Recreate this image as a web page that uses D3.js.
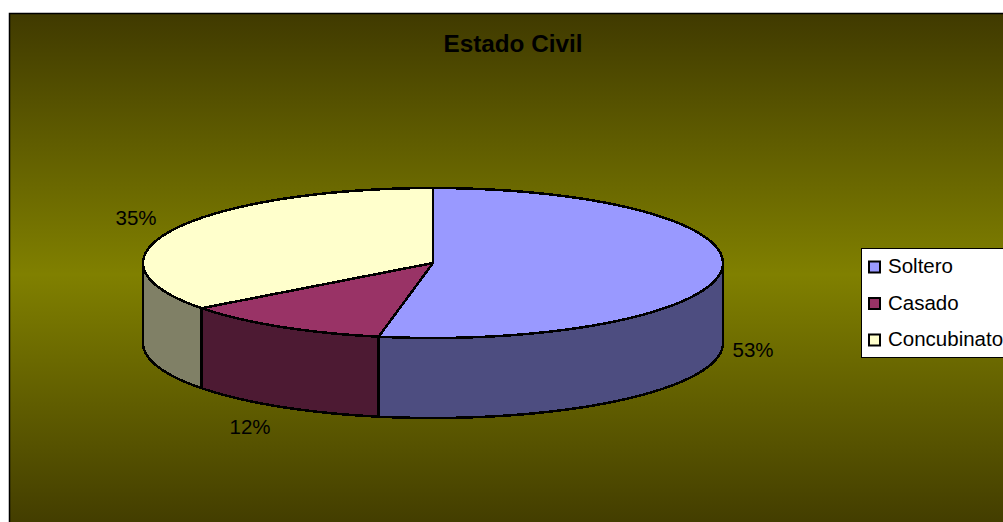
<!DOCTYPE html>
<html>
<head>
<meta charset="utf-8">
<script src="https://cdn.jsdelivr.net/npm/d3@7"></script>
<style>
  html, body { margin: 0; padding: 0; background: #fff; overflow: hidden; }
  text { font-family: "Liberation Sans", Arial, sans-serif; fill: #000; }
</style>
</head>
<body>
<script>
// Chart data
const categories = ['Soltero', 'Casado', 'Concubinato'];
const values = [53, 11.7, 35.3];
const topColors = ['#9999ff', '#993366', '#ffffcc'];
const sideColors = ['#4d4d80', '#4d1a33', '#808066'];

// SVG Canvas
const width = 1003;
const height = 522;

const svg = d3.select('body')
  .append('svg')
    .attr('width', width)
    .attr('height', height)
    .style('display', 'block');

// Background gradient
const grad = svg.append('defs').append('linearGradient')
    .attr('id', 'bg')
    .attr('x1', 0).attr('y1', 0)
    .attr('x2', 0).attr('y2', 1);
grad.selectAll('stop')
    .data([[0, '#403a00'], [0.5, '#808000'], [1, '#403a00']])
  .enter().append('stop')
    .attr('offset', d => d[0])
    .attr('stop-color', d => d[1]);

svg.append('rect')
    .attr('x', 9.5)
    .attr('y', 13.5)
    .attr('width', width)
    .attr('height', height)
    .attr('fill', 'url(#bg)')
    .attr('stroke', '#000')
    .attr('stroke-width', 1.5);

svg.append('text')
    .attr('x', 513)
    .attr('y', 52)
    .attr('text-anchor', 'middle')
    .style('font-size', '24.3px')
    .style('font-weight', 'bold')
    .text('Estado Civil');

// Tilted pie: unit circle mapped on to an ellipse
const x = d3.scaleLinear().domain([-1, 1]).range([143, 723]);
const y = d3.scaleLinear().domain([-1, 1]).range([338, 188]);
const depth = 80;

const slices = d3.pie().sort(null)(values);

const line = d3.line();
const rim = (a0, a1) => d3.range(0, 61).map(i => {
  const a = a0 + (a1 - a0) * i / 60;
  return [x(Math.sin(a)), y(Math.cos(a))];
});

const stroke = (sel) => sel
    .attr('stroke', '#000')
    .attr('stroke-width', 2.5)
    .attr('stroke-linejoin', 'round')
    .attr('shape-rendering', 'crispEdges');

// Walls, only the front half of the rim shows
slices.forEach((d, i) => {
  const a0 = Math.max(d.startAngle, Math.PI / 2);
  const a1 = Math.min(d.endAngle, Math.PI * 1.5);
  if (a1 <= a0) return;
  const upper = rim(a0, a1);
  const lower = upper.map(p => [p[0], p[1] + depth]).reverse();
  svg.append('path')
      .attr('d', line(upper.concat(lower)) + 'Z')
      .attr('fill', sideColors[i])
      .call(stroke);
});

// Top faces
slices.forEach((d, i) => {
  svg.append('path')
      .attr('d', line([[x(0), y(0)]].concat(rim(d.startAngle, d.endAngle))) + 'Z')
      .attr('fill', topColors[i])
      .call(stroke);
});

// Percent labels
const labelPos = [[753, 357], [250, 434], [136, 225]];
slices.forEach((d, i) => {
  svg.append('text')
      .attr('x', labelPos[i][0])
      .attr('y', labelPos[i][1])
      .attr('text-anchor', 'middle')
      .style('font-size', '20.5px')
      .text(Math.round(values[i]) + '%');
});

// Legend
svg.append('rect')
    .attr('x', 861.5)
    .attr('y', 248.5)
    .attr('width', 160)
    .attr('height', 109)
    .attr('fill', '#fff')
    .attr('stroke', '#000')
    .attr('stroke-width', 1);

const legend = svg.selectAll('g.legend')
    .data(categories)
  .enter().append('g')
    .attr('class', 'legend')
    .attr('transform', (d, i) => `translate(0, ${267 + i * 36.5})`);

legend.append('rect')
    .attr('x', 869)
    .attr('y', -5.5)
    .attr('width', 11)
    .attr('height', 11)
    .attr('fill', (d, i) => topColors[i])
    .attr('stroke', '#000')
    .attr('stroke-width', 2);

legend.append('text')
    .attr('x', 888)
    .attr('y', 6)
    .style('font-size', '20.5px')
    .text(d => d);
</script>
</body>
</html>
